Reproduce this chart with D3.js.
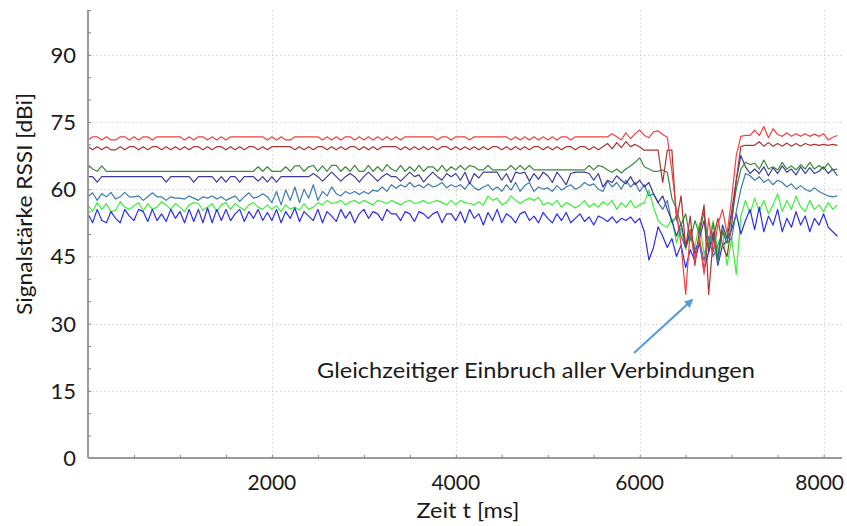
<!DOCTYPE html>
<html>
<head>
<meta charset="utf-8">
<script src="https://cdn.jsdelivr.net/npm/d3@7"></script>
<style>
  html, body { margin: 0; padding: 0; background: #ffffff; }
  svg { display: block; font-family: Lato, "Open Sans", sans-serif; }
</style>
</head>
<body>
<svg id="chart" width="847" height="526"></svg>
<script>
// RSSI traces sampled every 50 ms, one array per link
const sampleStepMs = 50;

const linkRed = [
  71.0,71.7,71.7,71.0,71.7,71.0,71.0,71.7,71.7,71.0,71.7,71.0,71.7,71.7,71.0,71.7,71.7,71.7,71.7,71.7,
  71.7,71.0,71.7,71.0,71.7,71.7,71.0,71.7,71.0,71.7,71.0,71.7,71.7,71.7,71.7,71.7,71.7,71.7,71.7,71.0,
  71.7,71.0,71.7,71.0,71.0,71.7,71.7,71.7,71.7,71.7,71.7,71.0,71.7,71.0,71.7,71.0,71.7,71.7,71.0,71.7,
  71.0,71.7,71.0,71.7,71.0,71.7,71.0,71.7,71.0,71.7,71.7,71.7,71.7,71.7,71.7,71.7,71.0,71.7,71.7,71.0,
  71.7,71.7,71.7,71.0,71.7,71.7,71.7,71.7,71.7,71.7,71.7,71.7,71.0,71.7,71.0,71.7,71.0,71.7,71.0,71.7,
  71.0,71.7,71.0,71.7,71.7,71.0,71.7,71.7,71.7,71.7,71.7,71.7,71.7,71.7,72.4,71.7,71.0,72.6,71.3,72.4,
  73.2,72.0,71.5,72.8,73.0,72.2,71.6,64.0,55.0,47.5,36.5,51.0,44.0,49.5,41.0,53.5,46.0,52.0,55.5,50.0,
  58.0,67.5,71.8,72.0,72.0,73.2,72.0,74.0,71.5,73.5,72.2,71.8,72.6,71.8,72.4,71.8,72.4,71.8,72.3,71.8,
  72.4,71.0,71.6,72.0
];

const linkDarkRed = [
  69.5,68.8,69.5,68.8,69.5,68.8,68.8,69.5,68.8,69.5,69.5,68.8,69.5,68.8,69.5,69.5,68.8,69.5,68.8,69.5,
  68.8,69.5,68.8,69.5,69.5,68.8,69.5,68.8,69.5,69.5,68.8,69.5,68.8,69.5,68.8,69.5,69.5,68.8,69.5,68.8,
  69.5,69.5,69.5,69.5,69.5,68.8,69.5,68.8,69.5,68.8,69.5,69.5,68.8,69.5,68.8,69.5,68.8,69.5,69.5,68.8,
  69.5,68.8,69.5,68.8,69.5,69.5,69.5,69.5,68.8,69.5,68.8,69.5,68.8,69.5,68.8,69.5,68.8,69.5,69.5,68.8,
  69.5,68.8,69.5,68.8,69.5,68.8,69.5,68.8,69.5,69.5,68.8,69.5,68.8,69.5,68.8,69.5,68.8,69.5,69.5,68.8,
  69.5,68.8,69.5,68.8,69.5,69.5,68.8,69.5,69.5,68.8,69.5,68.8,69.5,70.2,69.0,70.4,69.3,70.6,69.5,70.0,
  69.4,68.7,68.7,68.7,68.7,61.5,68.7,68.7,53.0,58.5,47.0,54.0,43.0,51.0,56.5,36.5,49.0,53.5,47.5,45.0,
  52.0,62.0,69.5,69.8,69.8,69.8,70.6,69.6,70.4,69.6,70.2,69.6,70.3,69.6,70.2,69.6,70.2,69.8,70.0,69.8,
  70.0,69.8,70.0,69.8
];

const linkGreen = [
  65.5,64.5,64.0,65.2,64.0,64.0,64.0,64.0,64.0,64.0,64.0,64.0,64.0,64.0,64.0,64.0,64.0,64.0,64.0,64.0,
  64.0,64.0,64.0,64.0,64.0,64.0,64.0,64.0,64.0,64.0,64.0,64.0,64.0,64.0,64.0,64.0,64.0,65.0,64.0,65.0,
  64.0,64.0,64.0,65.0,64.0,65.2,65.2,64.0,65.0,65.3,64.0,65.2,64.0,65.3,65.3,64.0,65.0,64.0,65.3,64.0,
  64.0,65.3,64.0,65.0,64.0,65.5,64.5,64.0,65.3,64.0,65.0,64.0,65.3,64.0,65.0,65.0,64.0,65.3,64.0,65.0,
  64.3,65.3,64.3,65.3,65.0,64.3,64.3,65.3,64.3,64.3,64.3,64.3,65.3,64.3,65.3,64.3,65.3,64.3,64.3,64.3,
  64.3,64.3,64.3,64.3,64.3,64.3,64.3,64.3,64.3,65.3,64.3,65.3,65.0,64.3,63.8,64.5,63.6,64.5,65.2,66.0,
  67.0,65.0,64.5,64.0,64.0,64.3,63.8,58.0,55.5,52.0,54.5,48.5,53.0,50.0,55.0,47.0,52.5,43.5,51.0,48.0,
  54.0,60.0,64.5,66.0,65.5,65.8,64.5,66.5,64.5,65.0,64.3,66.0,64.5,65.2,64.3,65.5,64.5,66.0,64.5,65.3,
  64.5,65.8,64.3,64.5
];

const linkNavy = [
  62.8,62.8,61.6,62.8,62.8,62.8,62.8,62.8,62.8,62.8,62.8,62.8,62.8,62.8,62.8,62.8,62.8,61.6,62.8,62.8,
  62.8,62.8,62.8,61.6,62.8,62.8,62.8,62.8,61.6,62.8,61.6,62.8,62.8,61.6,62.8,62.8,62.8,61.8,62.8,61.6,
  62.8,61.6,62.8,62.8,62.8,62.8,62.8,62.8,62.8,63.5,62.8,61.8,62.8,63.8,62.8,61.8,62.8,63.5,62.8,61.6,
  62.8,63.8,62.8,61.8,62.8,63.5,62.8,62.8,61.8,62.8,63.8,62.8,63.2,61.6,62.8,63.8,62.8,62.0,63.5,62.8,
  63.5,62.0,63.8,61.2,63.5,62.5,63.8,63.8,63.8,63.8,62.0,63.5,61.5,63.8,63.5,63.8,61.8,63.5,62.2,63.8,
  63.0,61.5,63.8,62.5,61.0,63.5,63.8,63.8,63.8,63.5,62.0,63.5,60.5,62.0,61.5,63.0,62.0,61.2,62.8,61.0,
  62.0,60.5,61.5,59.0,57.0,58.5,55.5,53.0,49.5,52.5,47.0,50.5,45.5,49.0,53.0,46.0,50.5,44.5,52.0,49.0,
  55.0,62.0,67.5,65.0,63.5,64.5,63.5,65.0,63.0,64.8,63.5,65.2,63.8,64.5,63.2,65.0,63.5,64.8,63.5,64.0,
  65.0,63.5,64.5,63.0
];

const linkSteel = [
  58.3,59.2,57.5,59.0,58.3,59.3,57.8,58.3,59.3,58.3,58.3,58.5,57.5,58.3,59.2,58.3,58.3,57.5,58.3,58.0,
  58.0,57.8,58.5,58.0,57.5,58.3,58.0,58.5,57.8,58.3,57.5,58.0,58.5,57.3,58.3,59.2,58.0,58.3,59.0,58.3,
  57.0,59.5,56.5,59.8,57.5,60.5,57.0,60.0,58.0,61.0,57.5,59.5,58.5,60.5,59.0,58.5,59.5,59.0,59.5,58.8,
  59.5,59.0,59.8,59.5,60.5,59.5,61.0,60.2,61.0,60.5,61.5,60.5,61.0,60.3,61.2,60.5,60.8,61.5,60.3,61.0,
  60.5,61.0,60.0,61.5,60.3,59.8,60.5,61.0,59.8,60.5,59.5,61.0,59.8,61.5,59.5,60.8,61.5,59.5,60.5,60.0,
  60.3,59.5,60.8,59.8,60.5,61.0,60.0,60.5,61.5,60.8,61.2,60.0,59.5,61.8,60.5,61.5,60.0,62.0,60.5,61.5,
  59.5,61.0,58.5,59.0,57.0,55.5,57.5,52.5,54.0,49.5,47.0,51.0,46.5,48.5,44.0,49.5,45.0,47.5,50.5,48.0,
  49.0,55.0,60.0,63.5,63.0,62.0,62.8,61.5,62.2,61.0,62.0,61.5,60.5,61.2,60.0,60.8,60.0,59.5,60.3,59.5,
  59.0,58.5,58.3,58.5
];

const linkLightGreen = [
  56.5,55.0,57.0,55.5,56.8,55.0,55.3,57.2,56.0,55.5,56.3,57.0,55.2,56.8,55.5,56.0,57.2,56.5,55.5,56.8,
  56.0,55.0,56.5,57.0,56.8,55.3,56.0,56.8,55.0,56.5,57.0,55.5,56.8,56.0,55.3,56.5,57.0,56.0,55.5,56.5,
  55.5,56.3,55.0,56.5,55.5,56.0,55.3,56.8,55.5,56.0,57.0,56.5,57.5,56.8,57.0,57.5,56.5,57.2,57.5,56.8,
  57.5,57.0,56.5,57.5,57.2,56.8,57.5,57.0,56.5,57.2,57.5,56.8,57.0,57.5,56.8,57.2,57.5,57.0,56.5,57.5,
  56.5,57.5,57.0,56.8,56.5,57.2,56.5,58.5,57.5,58.0,56.5,57.0,58.5,57.5,56.8,57.5,58.0,57.5,58.2,56.5,
  57.0,56.5,57.5,56.0,57.0,56.5,55.8,56.5,57.5,56.0,56.8,56.0,57.2,56.5,57.5,55.5,57.0,56.0,57.5,55.8,
  56.5,57.0,59.8,56.0,53.0,52.0,51.5,53.5,48.0,51.5,46.5,50.0,47.0,52.5,45.5,49.0,53.0,46.0,50.5,43.0,
  49.0,41.0,54.0,57.5,54.5,58.0,55.0,57.5,54.5,56.5,59.0,55.0,57.5,55.5,58.5,56.0,55.0,57.5,55.5,56.5,
  55.0,57.0,55.5,56.5
];

const linkBlue = [
  54.5,52.5,55.5,53.0,52.5,55.0,53.5,52.5,55.5,54.0,53.0,55.5,55.0,52.8,55.5,53.0,54.5,52.8,55.5,53.5,
  55.0,52.5,55.5,52.8,55.5,52.5,55.8,52.5,55.5,53.0,55.5,53.0,54.5,55.5,52.8,55.0,53.5,55.5,53.0,54.8,
  53.0,55.5,52.5,55.0,53.5,55.8,52.8,55.0,54.0,53.0,55.5,52.5,55.0,54.0,52.8,55.5,53.5,55.0,52.5,54.5,
  55.5,53.5,55.0,54.5,53.0,55.5,54.5,54.5,53.0,55.0,54.5,52.8,55.0,54.5,53.5,54.5,55.0,52.5,54.5,54.5,
  53.0,55.0,52.5,55.5,53.5,54.5,52.0,54.8,53.0,55.5,52.5,54.5,53.8,52.5,54.5,55.0,53.0,54.0,52.5,54.8,
  53.5,52.5,54.5,53.0,54.8,52.5,53.5,54.5,52.8,53.8,52.0,54.0,53.5,52.8,53.8,52.5,53.5,53.0,53.8,52.5,
  53.5,50.5,44.2,47.0,51.6,49.5,47.0,49.0,45.0,47.5,42.5,46.5,44.0,48.0,42.0,46.0,49.5,43.0,47.5,48.5,
  51.0,54.5,50.0,53.0,55.5,51.0,56.0,50.5,54.0,52.0,55.5,50.5,53.5,51.5,55.0,52.0,54.0,50.5,53.5,52.0,
  54.5,51.5,50.5,49.5
];

const yTickValues = [0, 15, 30, 45, 60, 75, 90];
const xTickValues = [2000, 4000, 6000, 8000];

const series = [
  { values: linkLightGreen, color: "#3cf03c" },
  { values: linkBlue,       color: "#2b2bf2" },
  { values: linkSteel,      color: "#3f7bab" },
  { values: linkNavy,       color: "#3b3b9c" },
  { values: linkGreen,      color: "#3a8a3a" },
  { values: linkDarkRed,    color: "#a83535" },
  { values: linkRed,        color: "#f24040" }
];

const svg = d3.select("#chart");
const width = 847;
const plotLeft = 88, plotRight = 842, plotTop = 10, plotBottom = 458;

const x = d3.scaleLinear().domain([0, 8200]).range([plotLeft, plotRight]);
const y = d3.scaleLinear().domain([0, 100]).range([plotBottom, plotTop]);

// dotted grid
const grid = svg.append("g").attr("stroke", "#d4d4d4").attr("stroke-width", 1)
  .attr("stroke-dasharray", "1.5,2.5");
grid.selectAll("line.gy").data(yTickValues.filter(v => v > 0)).join("line")
  .attr("x1", plotLeft).attr("x2", plotRight)
  .attr("y1", d => Math.round(y(d)) + 0.5).attr("y2", d => Math.round(y(d)) + 0.5);
grid.selectAll("line.gx").data(xTickValues).join("line")
  .attr("y1", plotTop).attr("y2", plotBottom)
  .attr("x1", d => Math.round(x(d)) + 0.5).attr("x2", d => Math.round(x(d)) + 0.5);

// traces
const line = d3.line()
  .x((d, i) => x(i * sampleStepMs))
  .y(d => y(d));

svg.append("g").selectAll("path").data(series).join("path")
  .attr("d", s => line(s.values))
  .attr("fill", "none")
  .attr("stroke", s => s.color)
  .attr("stroke-width", 1.2)
  .attr("stroke-linejoin", "round");

// axes
const axisColor = "#9a9a9a";
const xAxis = svg.append("g").attr("transform", `translate(0,${plotBottom})`)
  .call(d3.axisBottom(x).tickValues(d3.range(500, 8001, 500)).tickSize(-3).tickFormat(""));
xAxis.select(".domain").attr("stroke", axisColor).attr("stroke-width", 2)
  .attr("d", `M${plotLeft},0H${plotRight}`);
xAxis.selectAll(".tick line").attr("stroke", "#888").attr("stroke-width", 1);

const yAxis = svg.append("g").attr("transform", `translate(${plotLeft},0)`)
  .call(d3.axisLeft(y).tickValues(d3.range(5, 101, 5)).tickSize(-3).tickFormat(""));
yAxis.select(".domain").attr("stroke", axisColor).attr("stroke-width", 2)
  .attr("d", `M0,${plotTop}V${plotBottom}`);
yAxis.selectAll(".tick line").attr("stroke", "#888").attr("stroke-width", 1);

// tick labels
svg.append("g").selectAll("text").data(yTickValues).join("text")
  .attr("x", 76).attr("y", d => y(d)).attr("dy", "0.36em")
  .attr("text-anchor", "end").attr("font-size", 22).attr("fill", "#1a1a1a")
  .text(d => d);

// x labels centred on their ticks, the last one kept inside the canvas
svg.append("g").selectAll("text").data(xTickValues).join("text")
  .attr("y", 490)
  .attr("text-anchor", "middle").attr("font-size", 21).attr("fill", "#1a1a1a")
  .text(d => d)
  .attr("x", function(d) {
    const half = this.getComputedTextLength() / 2;
    return Math.min(x(d), width - 3 - half);
  });

// axis titles
svg.append("text")
  .attr("transform", "translate(32,204) rotate(-90)")
  .attr("text-anchor", "middle").attr("font-size", 21).attr("fill", "#1a1a1a")
  .attr("textLength", 222).attr("lengthAdjust", "spacingAndGlyphs")
  .text("Signalstärke RSSI [dBi]");

svg.append("text")
  .attr("x", 468).attr("y", 518)
  .attr("text-anchor", "middle").attr("font-size", 22).attr("fill", "#1a1a1a")
  .attr("textLength", 103).attr("lengthAdjust", "spacingAndGlyphs")
  .text("Zeit t [ms]");

// annotation
svg.append("defs").append("marker")
  .attr("id", "arrowHead").attr("viewBox", "0 0 10 10")
  .attr("refX", 8).attr("refY", 5)
  .attr("markerWidth", 4).attr("markerHeight", 4)
  .attr("orient", "auto")
  .append("path").attr("d", "M0,0L10,5L0,10z").attr("fill", "#5b9bd5");

svg.append("line")
  .attr("x1", 634).attr("y1", 353).attr("x2", 692).attr("y2", 300)
  .attr("stroke", "#5b9bd5").attr("stroke-width", 2.2)
  .attr("marker-end", "url(#arrowHead)");

svg.append("text")
  .attr("x", 317).attr("y", 378)
  .attr("font-size", 22).attr("fill", "#1a1a1a")
  .attr("textLength", 438).attr("lengthAdjust", "spacingAndGlyphs")
  .text("Gleichzeitiger Einbruch aller Verbindungen");
</script>
</body>
</html>
